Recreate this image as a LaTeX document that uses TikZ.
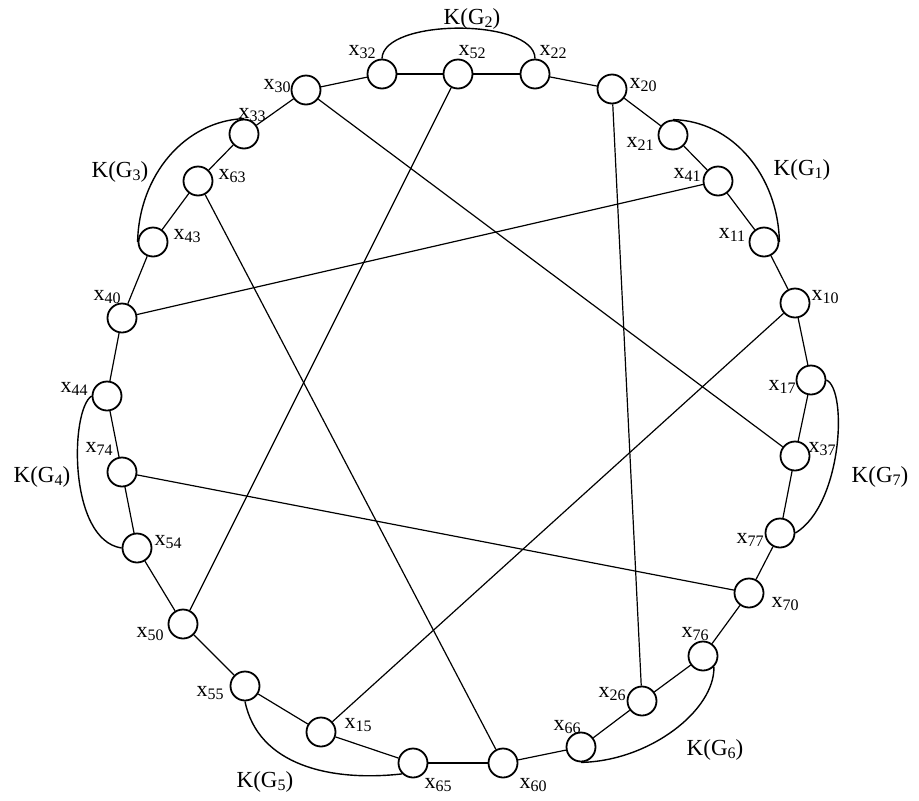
\documentclass[tikz,border=0pt]{standalone}
\usepackage{fontspec}
\setmainfont{Liberation Serif}
\newcommand{\xl}[1]{x\raisebox{-3pt}{\fontsize{16}{16}\selectfont #1}}
\newcommand{\kg}[1]{K(G\raisebox{-3pt}{\fontsize{16}{16}\selectfont #1})}
\begin{document}
\begin{tikzpicture}[
    x=1pt, y=-1pt,
    vtx/.style={draw, circle, fill=white, minimum size=29pt, inner sep=0pt, line width=1.8pt},
    lab/.style={font=\fontsize{22}{24}\selectfont, inner sep=0pt},
    klab/.style={font=\fontsize{23}{25}\selectfont, inner sep=0pt},
    edge/.style={line width=1.2pt},
    kedge/.style={line width=1.4pt},
]
\useasboundingbox (0,0) rectangle (919,801);

\node[vtx] (x32) at (382,74) {};
\node[vtx] (x52) at (458,74) {};
\node[vtx] (x22) at (535,74) {};
\node[vtx] (x20) at (612,89) {};
\node[vtx] (x21) at (673,135) {};
\node[vtx] (x41) at (718,181) {};
\node[vtx] (x11) at (764,242) {};
\node[vtx] (x10) at (795,303) {};
\node[vtx] (x17) at (811,380) {};
\node[vtx] (x37) at (795,456) {};
\node[vtx] (x77) at (780,533) {};
\node[vtx] (x70) at (749,593) {};
\node[vtx] (x76) at (703,656) {};
\node[vtx] (x26) at (642,701) {};
\node[vtx] (x66) at (581,747) {};
\node[vtx] (x60) at (503,763) {};
\node[vtx] (x65) at (413,763) {};
\node[vtx] (x15) at (321,732) {};
\node[vtx] (x55) at (245,686) {};
\node[vtx] (x50) at (183,624) {};
\node[vtx] (x54) at (137,548) {};
\node[vtx] (x74) at (122,472) {};
\node[vtx] (x44) at (107,396) {};
\node[vtx] (x40) at (122,318) {};
\node[vtx] (x43) at (153,242) {};
\node[vtx] (x63) at (198,181) {};
\node[vtx] (x33) at (244,134) {};
\node[vtx] (x30) at (306,90) {};

% vertex labels
\node[lab] (t32) at (362,52) {\xl{32}};
\node[lab] (t52) at (472,52) {\xl{52}};
\node[lab] (t22) at (553,52) {\xl{22}};
\node[lab] (t20) at (643,85) {\xl{20}};
\node[lab] (t21) at (640,144) {\xl{21}};
\node[lab] (t41) at (687,175) {\xl{41}};
\node[lab] (t11) at (732,235) {\xl{11}};
\node[lab] (t10) at (825,297) {\xl{10}};
\node[lab] (t17) at (782,387) {\xl{17}};
\node[lab] (t37) at (822,449) {\xl{37}};
\node[lab] (t77) at (750,540) {\xl{77}};
\node[lab] (t70) at (785,604) {\xl{70}};
\node[lab] (t76) at (695,634) {\xl{76}};
\node[lab] (t26) at (612,694) {\xl{26}};
\node[lab] (t66) at (567,727) {\xl{66}};
\node[lab] (t60) at (533,785) {\xl{60}};
\node[lab] (t65) at (438,785) {\xl{65}};
\node[lab] (t15) at (358,725) {\xl{15}};
\node[lab] (t55) at (210,693) {\xl{55}};
\node[lab] (t50) at (150,634) {\xl{50}};
\node[lab] (t54) at (168,542) {\xl{54}};
\node[lab] (t74) at (99,449) {\xl{74}};
\node[lab] (t44) at (74,389) {\xl{44}};
\node[lab] (t40) at (107,297) {\xl{40}};
\node[lab] (t43) at (187,236) {\xl{43}};
\node[lab] (t63) at (232,176) {\xl{63}};
\node[lab] (t33) at (252,115) {\xl{33}};
\node[lab] (t30) at (277,86) {\xl{30}};

% clique labels
\node[klab] (k1) at (802,170) {\kg{1}};
\node[klab] (k2) at (472,19) {\kg{2}};
\node[klab] (k3) at (120,172) {\kg{3}};
\node[klab] (k4) at (42,477) {\kg{4}};
\node[klab] (k5) at (265,782) {\kg{5}};
\node[klab] (k6) at (715,750) {\kg{6}};
\node[klab] (k7) at (880,477) {\kg{7}};

% outer cycle
\draw[edge] (x32) -- (x52);
\draw[edge] (x52) -- (x22);
\draw[edge] (x22) -- (x20);
\draw[edge] (x20) -- (x21);
\draw[edge] (x21) -- (x41);
\draw[edge] (x41) -- (x11);
\draw[edge] (x11) -- (x10);
\draw[edge] (x10) -- (x17);
\draw[edge] (x17) -- (x37);
\draw[edge] (x37) -- (x77);
\draw[edge] (x77) -- (x70);
\draw[edge] (x70) -- (x76);
\draw[edge] (x76) -- (x26);
\draw[edge] (x26) -- (x66);
\draw[edge] (x66) -- (x60);
\draw[edge] (x60) -- (x65);
\draw[edge] (x65) -- (x15);
\draw[edge] (x15) -- (x55);
\draw[edge] (x55) -- (x50);
\draw[edge] (x50) -- (x54);
\draw[edge] (x54) -- (x74);
\draw[edge] (x74) -- (x44);
\draw[edge] (x44) -- (x40);
\draw[edge] (x40) -- (x43);
\draw[edge] (x43) -- (x63);
\draw[edge] (x63) -- (x33);
\draw[edge] (x33) -- (x30);
\draw[edge] (x30) -- (x32);

% chords
\draw[edge] (x52) -- (x50);
\draw[edge] (x30) -- (x37);
\draw[edge] (x63) -- (x60);
\draw[edge] (x20) -- (x26);
\draw[edge] (x41) -- (x40);
\draw[edge] (x10) -- (x15);
\draw[edge] (x74) -- (x70);

% clique arcs
\draw[kedge] (x32.north) .. controls (383,18) and (535,18) .. (x22.north);
\draw[kedge] (x21.north) .. controls (732,121) and (778,175) .. (x11.east);
\draw[kedge] (x33.north) .. controls (185,121) and (139,175) .. (x43.west);
\draw[kedge] (x44.west) .. controls (70,410) and (68,540) .. (x54.west);
\draw[kedge] (x17.east) .. controls (848,390) and (842,505) .. (x77.east);
\draw[kedge] (x55.south) .. controls (258,765) and (330,782) .. (x65.south west);
\draw[kedge] (x76.south east) .. controls (715,710) and (650,761) .. (x66.south);

\end{tikzpicture}
\end{document}
